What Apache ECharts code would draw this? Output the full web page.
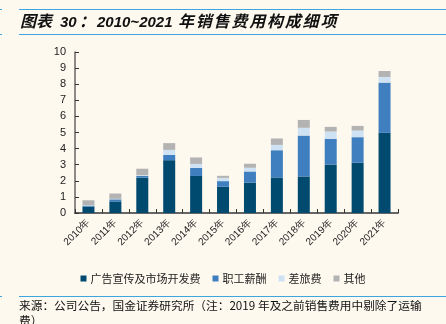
<!DOCTYPE html>
<html><head><meta charset="utf-8">
<script src="https://cdn.jsdelivr.net/npm/echarts@6/dist/echarts.min.js"></script>
<style>html,body{margin:0;padding:0;background:#FEF9EF;}#c{width:446px;height:324px;}</style>
</head><body><div id="c"></div>
<script>
const categories = ['2010年','2011年','2012年','2013年','2014年','2015年','2016年','2017年','2018年','2019年','2020年','2021年'];
const adMarket = [0.40,0.72,2.20,3.28,2.30,1.63,1.88,2.21,2.27,3.01,3.12,4.98];
const staffPay = [0.06,0.13,0.10,0.33,0.50,0.35,0.70,1.69,2.54,1.60,1.59,3.12];
const travel   = [0.03,0.03,0.05,0.31,0.25,0.20,0.23,0.33,0.48,0.45,0.41,0.35];
const others   = [0.30,0.33,0.40,0.42,0.40,0.13,0.25,0.40,0.49,0.29,0.29,0.37];
const seriesNames = ['广告宣传及市场开发费','职工薪酬','差旅费','其他'];
const yTicks = [0,1,2,3,4,5,6,7,8,9,10];

const chart = echarts.init(document.getElementById('c'));
const colors = ['#004A70','#3F7FBF','#CFE2F3','#B3B3B3'];
const dataSets = [adMarket, staffPay, travel, others];
const font = '"Noto Sans CJK SC", sans-serif';
const titleFont = 'italic bold 16px "Noto Sans CJK SC", sans-serif';
const digitFont = 'italic bold 15px "Liberation Sans", Arial, sans-serif';
const titleParts = [];
titleParts.push({type: 'text', left: 20, top: 13, style: {text: '图表', font: titleFont, fill: '#111'}});
titleParts.push({type: 'text', left: 60, top: 15, style: {text: '30', font: digitFont, fill: '#111'}});
titleParts.push({type: 'text', left: 79, top: 13, style: {text: '：', font: titleFont, fill: '#111'}});
titleParts.push({type: 'text', left: 97, top: 15, style: {text: '2010~2021', font: digitFont, fill: '#111'}});
'年销售费用构成细项'.split('').forEach((ch, i) => {
  titleParts.push({type: 'text', left: 178 + i * 17.8, top: 13, style: {text: ch, font: titleFont, fill: '#111'}});
});
chart.setOption({
  backgroundColor: '#FEF9EF',
  animation: false,
  textStyle: {fontFamily: font},
  grid: {left: 75, right: 48, top: 52, bottom: 111, containLabel: false},
  legend: {
    top: 268, left: 'center', itemWidth: 6, itemHeight: 6, itemGap: 12,
    icon: 'rect',
    textStyle: {fontSize: 11, color: '#222', fontFamily: font, padding: [0, 0, 0, -1]},
    data: seriesNames
  },
  xAxis: {
    type: 'category', data: categories,
    axisLine: {lineStyle: {color: '#666', width: 2}},
    axisTick: {show: true, inside: true, length: 4, lineStyle: {color: '#333'}},
    axisLabel: {rotate: 45, fontSize: 10, color: '#222', margin: 8, interval: 0, fontFamily: 'Liberation Sans, Arial, sans-serif'}
  },
  yAxis: {
    type: 'value', min: yTicks[0], max: yTicks[yTicks.length-1], interval: 1,
    axisLine: {show: true, lineStyle: {color: '#666', width: 1.5}},
    axisTick: {show: true, inside: true, length: 4, lineStyle: {color: '#333'}},
    splitLine: {show: false},
    axisLabel: {fontSize: 11, color: '#222', margin: 9, fontFamily: 'Liberation Sans, Arial, sans-serif'}
  },
  series: seriesNames.map((n, i) => ({
    name: n, type: 'bar', stack: 'total', barWidth: 12,
    itemStyle: {color: colors[i]},
    data: dataSets[i]
  })),
  graphic: [
    {type: 'line', shape: {x1: 19, y1: 9.5, x2: 446, y2: 9.5}, style: {stroke: '#3DA6E0', lineWidth: 1}},
    {type: 'line', shape: {x1: 19, y1: 34.5, x2: 446, y2: 34.5}, style: {stroke: '#3DA6E0', lineWidth: 1}},
    {type: 'line', shape: {x1: 0, y1: 9.5, x2: 2, y2: 9.5}, style: {stroke: '#3DA6E0', lineWidth: 1}},
    {type: 'line', shape: {x1: 0, y1: 34.5, x2: 2, y2: 34.5}, style: {stroke: '#3DA6E0', lineWidth: 1}},
    ...titleParts,
    {type: 'line', shape: {x1: 19, y1: 296.5, x2: 446, y2: 296.5}, style: {stroke: '#3DA6E0', lineWidth: 1}},
    {type: 'line', shape: {x1: 0, y1: 296.5, x2: 2, y2: 296.5}, style: {stroke: '#3DA6E0', lineWidth: 1}},
    {type: 'text', left: 19, top: 300, style: {text: '来源：公司公告，国金证券研究所（注：2019 年及之前销售费用中剔除了运输', font: '11.7px "Noto Sans CJK SC", sans-serif', fill: '#111'}},
    {type: 'text', left: 19, top: 315, style: {text: '费）', font: '11.7px "Noto Sans CJK SC", sans-serif', fill: '#111'}}
  ]
});
</script></body></html>
